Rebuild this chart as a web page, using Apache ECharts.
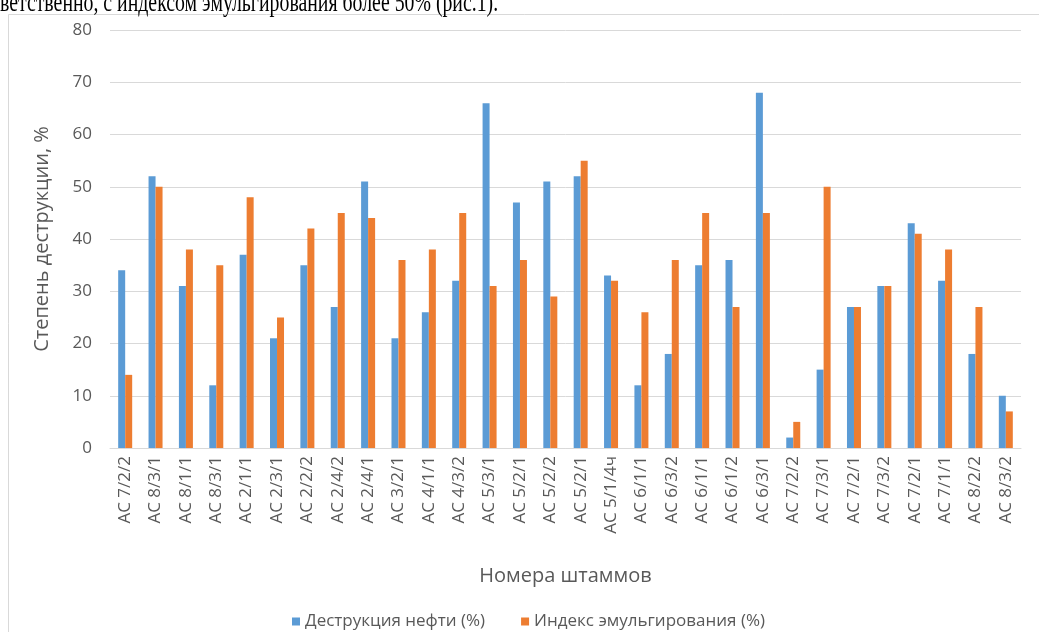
<!DOCTYPE html>
<html><head><meta charset="utf-8">
<script src="https://cdn.jsdelivr.net/npm/echarts@6/dist/echarts.min.js"></script>
<style>html,body{margin:0;padding:0;background:#fff}#c{width:1039px;height:632px}</style>
</head><body><div id="c"></div>
<script>
const categories = ['AC 7/2/2','AC 8/3/1','AC 8/1/1','AC 8/3/1','AC 2/1/1','AC 2/3/1','AC 2/2/2','AC 2/4/2','AC 2/4/1','AC 3/2/1','AC 4/1/1','AC 4/3/2','AC 5/3/1','AC 5/2/1','AC 5/2/2','AC 5/2/1','AC 5/1/4ч','AC 6/1/1','AC 6/3/2','AC 6/1/1','AC 6/1/2','AC 6/3/1','AC 7/2/2','AC 7/3/1','AC 7/2/1','AC 7/3/2','AC 7/2/1','AC 7/1/1','AC 8/2/2','AC 8/3/2'];
const destruction = [34,52,31,12,37,21,35,27,51,21,26,32,66,47,51,52,33,12,18,35,36,68,2,15,27,31,43,32,18,10];
const emulsification = [14,50,38,35,48,25,42,45,44,36,38,45,31,36,29,55,32,26,36,45,27,45,5,50,27,31,41,38,27,7];
const seriesNames = ['Деструкция нефти (%)','Индекс эмульгирования (%)'];
const yTicks = {min:0, max:80, interval:10};
const topText = 'ветственно, с индексом эмульгирования более 50% (рис.1).';
const yName = 'Степень деструкции, %';
const xName = 'Номера штаммов';

const chart = echarts.init(document.getElementById('c'), null, {renderer:'canvas'});
const font = '"Open Sans", "Noto Sans", sans-serif';
const gray = '#595959';
chart.setOption({
  animation:false,
  backgroundColor:'#fff',
  textStyle:{fontFamily:font},
  graphic:[
    {type:'rect', shape:{x:8.5,y:14.5,width:1100,height:700}, style:{fill:'none',stroke:'#d9d9d9',lineWidth:1}, z:-1},
    {type:'text', x:0, y:-10, scaleX:0.99, scaleY:1.35, style:{text:topText, x:0, y:0, verticalAlign:'top', font:'20px "Liberation Serif", serif', fill:'#000'}}
  ],
  grid:{left:110, right:18, top:30, bottom:184, containLabel:false},
  legend:{
    left:287, top:608, itemWidth:8, itemHeight:8, itemGap:36, icon:'rect',
    textStyle:{color:gray, fontSize:17, fontFamily:font},
    data:seriesNames
  },
  xAxis:{
    type:'category', data:categories,
    name:xName, nameLocation:'middle', nameGap:118,
    nameTextStyle:{color:gray, fontSize:20, fontFamily:font},
    axisLine:{show:true, lineStyle:{color:'#d9d9d9'}},
    axisTick:{show:false},
    axisLabel:{rotate:90, color:gray, fontSize:17, margin:8, interval:0, fontFamily:font}
  },
  yAxis:{
    type:'value', min:yTicks.min, max:yTicks.max, interval:yTicks.interval,
    name:yName, nameLocation:'middle', nameGap:58, nameRotate:90,
    nameTextStyle:{color:gray, fontSize:20, fontFamily:font},
    axisLine:{show:false}, axisTick:{show:false},
    axisLabel:{color:gray, fontSize:17, margin:18, fontFamily:font},
    splitLine:{lineStyle:{color:'#d9d9d9'}}
  },
  series:[
    {name:seriesNames[0], type:'bar', data:destruction, barWidth:7, barGap:'0%', itemStyle:{color:'#5B9BD5'}},
    {name:seriesNames[1], type:'bar', data:emulsification, barWidth:7, barGap:'0%', itemStyle:{color:'#ED7D31'}}
  ]
});
</script></body></html>
